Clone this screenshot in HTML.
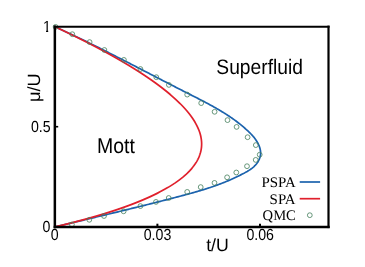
<!DOCTYPE html>
<html><head><meta charset="utf-8"><title>Mott lobe phase diagram</title><style>
html,body{margin:0;padding:0;background:#fff;}
body{width:365px;height:267px;overflow:hidden;font-family:"Liberation Sans",sans-serif;}
svg{display:block;}
text{fill:#000;}
</style></head><body>
<svg width="365" height="267" viewBox="0 0 365 267">

<polyline points="55.00,26.70 56.07,27.19 57.14,27.68 58.22,28.17 59.29,28.67 60.36,29.16 61.43,29.66 62.50,30.15 63.56,30.65 64.63,31.15 65.70,31.65 66.77,32.15 67.83,32.65 68.90,33.16 69.96,33.66 71.03,34.17 72.09,34.67 73.16,35.18 74.22,35.69 75.28,36.20 76.35,36.71 77.41,37.22 78.47,37.73 79.53,38.24 80.59,38.75 81.65,39.27 82.71,39.78 83.77,40.30 84.83,40.82 85.89,41.33 86.95,41.85 88.01,42.37 89.06,42.89 90.12,43.41 91.18,43.93 92.23,44.46 93.29,44.98 94.35,45.50 95.40,46.03 96.46,46.55 97.51,47.08 98.57,47.61 99.62,48.13 100.67,48.66 101.73,49.19 102.78,49.72 103.83,50.25 104.89,50.78 105.94,51.31 106.99,51.84 108.04,52.37 109.09,52.90 110.15,53.43 111.20,53.97 112.25,54.50 113.30,55.04 114.35,55.57 115.40,56.11 116.45,56.64 117.50,57.18 118.55,57.71 119.60,58.25 120.65,58.79 121.70,59.32 122.74,59.86 123.79,60.40 124.84,60.94 125.89,61.48 126.94,62.01 127.99,62.55 129.03,63.09 130.08,63.63 131.13,64.17 132.18,64.71 133.23,65.25 134.27,65.79 135.32,66.33 136.37,66.87 137.42,67.42 138.46,67.96 139.51,68.50 140.56,69.04 141.60,69.58 142.65,70.12 143.70,70.66 144.75,71.21 145.79,71.75 146.84,72.29 147.89,72.83 148.93,73.37 149.98,73.91 151.03,74.46 152.07,75.00 153.12,75.54 154.17,76.08 155.22,76.62 156.26,77.16 157.31,77.70 158.36,78.24 159.40,78.79 160.45,79.33 161.50,79.87 162.55,80.41 163.60,80.95 164.64,81.49 165.69,82.03 166.74,82.57 167.79,83.11 168.84,83.65 169.88,84.18 170.93,84.72 171.98,85.26 173.03,85.80 174.08,86.34 175.13,86.87 176.18,87.41 177.23,87.95 178.28,88.48 179.33,89.02 180.38,89.55 181.43,90.09 182.48,90.62 183.53,91.16 184.58,91.69 185.63,92.22 186.69,92.76 187.74,93.29 188.79,93.82 189.84,94.35 190.89,94.88 191.95,95.42 193.00,95.95 194.05,96.48 195.10,97.01 196.15,97.55 197.20,98.08 198.25,98.62 199.30,99.15 200.35,99.69 201.39,100.23 202.44,100.77 203.48,101.32 204.53,101.87 205.57,102.41 206.61,102.97 207.65,103.52 208.68,104.08 209.72,104.64 210.75,105.20 211.78,105.77 212.81,106.34 213.84,106.91 214.86,107.49 215.88,108.07 216.90,108.65 217.92,109.24 218.93,109.84 219.94,110.44 220.95,111.04 221.95,111.65 222.95,112.27 223.95,112.89 224.95,113.51 225.94,114.14 226.93,114.78 227.91,115.43 228.89,116.08 229.87,116.73 230.84,117.39 231.81,118.06 232.77,118.74 233.73,119.43 234.69,120.12 235.64,120.81 236.59,121.52 237.53,122.24 238.47,122.96 239.40,123.69 240.33,124.43 241.25,125.17 242.16,125.93 243.08,126.69 243.98,127.47 244.88,128.25 245.78,129.04 246.67,129.85 247.55,130.66 248.43,131.48 249.29,132.31 250.15,133.16 250.99,134.01 251.81,134.88 252.61,135.77 253.39,136.67 254.15,137.58 254.88,138.52 255.58,139.47 256.24,140.43 256.88,141.42 257.47,142.43 258.03,143.45 258.54,144.50 259.01,145.57 259.43,146.67 259.80,147.78 260.11,148.91 260.35,150.06 260.52,151.21 260.60,152.37 260.59,153.54 260.50,154.69 260.32,155.84 260.06,156.97 259.72,158.08 259.32,159.17 258.84,160.22 258.31,161.23 257.72,162.20 257.07,163.13 256.37,164.03 255.62,164.90 254.82,165.73 253.99,166.53 253.11,167.30 252.20,168.05 251.26,168.77 250.28,169.46 249.28,170.13 248.26,170.78 247.22,171.42 246.16,172.03 245.09,172.62 244.01,173.21 242.92,173.77 241.83,174.33 240.74,174.88 239.65,175.42 238.57,175.95 237.48,176.47 236.41,176.98 235.33,177.49 234.26,177.99 233.19,178.48 232.12,178.97 231.05,179.45 229.98,179.92 228.91,180.39 227.84,180.85 226.77,181.30 225.70,181.75 224.63,182.19 223.55,182.63 222.47,183.05 221.38,183.48 220.30,183.90 219.21,184.31 218.12,184.72 217.02,185.12 215.92,185.51 214.82,185.91 213.72,186.29 212.61,186.68 211.50,187.05 210.39,187.43 209.28,187.80 208.16,188.16 207.05,188.52 205.93,188.88 204.80,189.23 203.68,189.58 202.56,189.93 201.43,190.27 200.30,190.61 199.17,190.94 198.04,191.28 196.91,191.61 195.77,191.93 194.63,192.26 193.50,192.58 192.36,192.90 191.22,193.21 190.08,193.53 188.94,193.84 187.80,194.15 186.66,194.46 185.51,194.77 184.37,195.08 183.23,195.38 182.08,195.68 180.94,195.99 179.79,196.29 178.65,196.59 177.51,196.89 176.36,197.19 175.22,197.48 174.07,197.78 172.93,198.08 171.78,198.38 170.64,198.67 169.50,198.97 168.35,199.26 167.21,199.56 166.06,199.85 164.92,200.14 163.78,200.44 162.63,200.73 161.49,201.02 160.34,201.31 159.20,201.60 158.06,201.89 156.91,202.18 155.77,202.47 154.63,202.76 153.48,203.05 152.34,203.34 151.20,203.63 150.05,203.91 148.91,204.20 147.77,204.49 146.62,204.77 145.48,205.06 144.34,205.34 143.19,205.63 142.05,205.91 140.91,206.20 139.76,206.48 138.62,206.76 137.48,207.05 136.33,207.33 135.19,207.61 134.05,207.89 132.90,208.17 131.76,208.45 130.62,208.74 129.47,209.02 128.33,209.30 127.19,209.58 126.04,209.86 124.90,210.13 123.76,210.41 122.61,210.69 121.47,210.97 120.32,211.25 119.18,211.53 118.04,211.80 116.89,212.08 115.75,212.36 114.61,212.64 113.46,212.91 112.32,213.19 111.17,213.47 110.03,213.74 108.89,214.02 107.74,214.29 106.60,214.57 105.45,214.85 104.31,215.12 103.16,215.40 102.02,215.67 100.88,215.95 99.73,216.22 98.59,216.50 97.44,216.77 96.30,217.04 95.15,217.32 94.01,217.59 92.86,217.87 91.72,218.14 90.57,218.41 89.42,218.69 88.28,218.96 87.13,219.24 85.99,219.51 84.84,219.78 83.70,220.06 82.55,220.33 81.40,220.60 80.26,220.88 79.11,221.15 77.96,221.42 76.82,221.70 75.67,221.97 74.52,222.24 73.38,222.52 72.23,222.79 71.08,223.06 69.93,223.34 68.79,223.61 67.64,223.88 66.49,224.16 65.34,224.43 64.19,224.71 63.04,224.98 61.90,225.25 60.75,225.53 59.60,225.80 58.45,226.08 57.30,226.35 56.15,226.63 55.00,226.90" fill="none" stroke="#1c63ad" stroke-width="1.7" stroke-linejoin="round"/>
<polyline points="55.00,226.90 60.28,225.65 65.42,224.40 70.44,223.15 75.32,221.89 80.09,220.64 84.73,219.39 89.26,218.14 93.66,216.89 97.96,215.64 102.13,214.39 106.20,213.14 110.16,211.88 114.01,210.63 117.75,209.38 121.39,208.13 124.93,206.88 128.37,205.63 131.71,204.38 134.95,203.13 138.09,201.87 141.15,200.62 144.11,199.37 146.98,198.12 149.76,196.87 152.45,195.62 155.06,194.37 157.58,193.12 160.02,191.86 162.37,190.61 164.65,189.36 166.84,188.11 168.96,186.86 171.00,185.61 172.96,184.36 174.85,183.11 176.66,181.85 178.40,180.60 180.07,179.35 181.67,178.10 183.20,176.85 184.66,175.60 186.06,174.35 187.39,173.10 188.65,171.84 189.85,170.59 190.98,169.34 192.05,168.09 193.06,166.84 194.01,165.59 194.90,164.34 195.73,163.09 196.51,161.83 197.22,160.58 197.88,159.33 198.48,158.08 199.03,156.83 199.52,155.58 199.96,154.33 200.35,153.08 200.69,151.82 200.97,150.57 201.20,149.32 201.38,148.07 201.52,146.82 201.60,145.57 201.64,144.32 201.63,143.07 201.57,141.81 201.47,140.56 201.32,139.31 201.12,138.06 200.89,136.81 200.60,135.56 200.28,134.31 199.91,133.06 199.50,131.80 199.05,130.55 198.56,129.30 198.02,128.05 197.45,126.80 196.83,125.55 196.18,124.30 195.49,123.05 194.76,121.79 194.00,120.54 193.19,119.29 192.35,118.04 191.47,116.79 190.56,115.54 189.61,114.29 188.63,113.04 187.61,111.78 186.56,110.53 185.47,109.28 184.36,108.03 183.20,106.78 182.02,105.53 180.80,104.28 179.55,103.03 178.27,101.77 176.96,100.52 175.62,99.27 174.25,98.02 172.84,96.77 171.41,95.52 169.95,94.27 168.46,93.02 166.94,91.76 165.39,90.51 163.81,89.26 162.21,88.01 160.58,86.76 158.92,85.51 157.23,84.26 155.52,83.01 153.78,81.75 152.02,80.50 150.23,79.25 148.41,78.00 146.57,76.75 144.71,75.50 142.82,74.25 140.90,73.00 138.96,71.74 137.00,70.49 135.01,69.24 133.01,67.99 130.97,66.74 128.92,65.49 126.84,64.24 124.74,62.99 122.61,61.73 120.47,60.48 118.30,59.23 116.11,57.98 113.90,56.73 111.67,55.48 109.42,54.23 107.15,52.98 104.86,51.72 102.54,50.47 100.21,49.22 97.86,47.97 95.49,46.72 93.09,45.47 90.68,44.22 88.25,42.97 85.80,41.71 83.33,40.46 80.85,39.21 78.34,37.96 75.82,36.71 73.28,35.46 70.72,34.21 68.14,32.96 65.55,31.70 62.94,30.45 60.31,29.20 57.66,27.95 55.00,26.70" fill="none" stroke="#e0202c" stroke-width="1.7" stroke-linejoin="round"/>
<g fill="none" stroke="#447f5c" stroke-width="0.8">
<circle cx="55.6" cy="26.9" r="2.4"/>
<circle cx="72.3" cy="34.2" r="2.4"/>
<circle cx="89.6" cy="42.1" r="2.4"/>
<circle cx="104.4" cy="50.0" r="2.4"/>
<circle cx="123.9" cy="59.9" r="2.4"/>
<circle cx="140.4" cy="69.0" r="2.4"/>
<circle cx="156.3" cy="77.2" r="2.4"/>
<circle cx="168.9" cy="84.9" r="2.4"/>
<circle cx="187.2" cy="94.6" r="2.4"/>
<circle cx="201.2" cy="103.1" r="2.4"/>
<circle cx="214.6" cy="111.8" r="2.4"/>
<circle cx="227.5" cy="120.1" r="2.4"/>
<circle cx="236.6" cy="126.9" r="2.4"/>
<circle cx="247.6" cy="137.2" r="2.4"/>
<circle cx="255.8" cy="145.1" r="2.4"/>
<circle cx="259.7" cy="154.7" r="2.4"/>
<circle cx="255.7" cy="159.9" r="2.4"/>
<circle cx="247" cy="166.2" r="2.4"/>
<circle cx="236.3" cy="172.5" r="2.4"/>
<circle cx="227.1" cy="177.3" r="2.4"/>
<circle cx="214.5" cy="182.9" r="2.4"/>
<circle cx="200.7" cy="187.1" r="2.4"/>
<circle cx="187.2" cy="191.9" r="2.4"/>
<circle cx="168.7" cy="198.0" r="2.4"/>
<circle cx="156" cy="201.9" r="2.4"/>
<circle cx="140.4" cy="206.1" r="2.4"/>
<circle cx="123.6" cy="211.3" r="2.4"/>
<circle cx="104.0" cy="216.0" r="2.4"/>
<circle cx="89.3" cy="219.8" r="2.4"/>
<circle cx="71.9" cy="224.5" r="2.4"/>
<circle cx="309.8" cy="215.2" r="2.4"/>
</g>
<g stroke="#000" stroke-linecap="square">
<line x1="54.85" y1="26.7" x2="328.5" y2="26.7" stroke-width="2.1"/>
<line x1="54.85" y1="227.0" x2="328.5" y2="227.0" stroke-width="2.4"/>
<line x1="54.85" y1="26.7" x2="54.85" y2="227.0" stroke-width="2.5"/>
<line x1="328.5" y1="26.7" x2="328.5" y2="227.0" stroke-width="2.2"/>
</g>
<g stroke="#000" stroke-width="2">
<line x1="157.4" y1="227" x2="157.4" y2="223.7"/>
<line x1="260.0" y1="227" x2="260.0" y2="223.7"/>
<line x1="55.2" y1="126.7" x2="58.2" y2="126.7" stroke-width="1.6"/>
</g>
<line x1="299.7" y1="182.0" x2="320.1" y2="182.0" stroke="#1c63ad" stroke-width="1.7"/>
<line x1="299.7" y1="198.7" x2="320.1" y2="198.7" stroke="#e0202c" stroke-width="1.7"/>
<g style="will-change:transform;text-rendering:geometricPrecision">
<clipPath id="c1"><path d="M42 18H48.2V34H46.05V29.9H42Z"/></clipPath><g clip-path="url(#c1)"><text id="y1" transform="translate(42.9,32.2) rotate(0.01) scale(1,1.13)" font-family="Liberation Sans, sans-serif" font-size="14.15">1</text></g>
<text id="y05" transform="translate(30.9,131.85) rotate(0.01) scale(1,1.13)" font-family="Liberation Sans, sans-serif" font-size="14.15">0.5</text>
<text id="y0" transform="translate(42.5,232.1) rotate(0.01) scale(1,1.13)" font-family="Liberation Sans, sans-serif" font-size="14.15">0</text>
<text id="x0" transform="translate(50.7,239.8) rotate(0.01) scale(1,1.13)" font-family="Liberation Sans, sans-serif" font-size="14.15">0</text>
<text id="x03" transform="translate(143.75,239.85) rotate(0.01) scale(1,1.13)" font-family="Liberation Sans, sans-serif" font-size="14.15">0.03</text>
<text id="x06" transform="translate(246.45,240.1) rotate(0.01) scale(1,1.13)" font-family="Liberation Sans, sans-serif" font-size="14.15">0.06</text>
<text id="tU" transform="translate(206.2,251.1) rotate(0.01) scale(1,1.0)" font-family="Liberation Sans, sans-serif" font-size="17.7">t/U</text>
<text id="sf" transform="translate(216.3,73.5) rotate(0.01) scale(1,1.088)" font-family="Liberation Sans, sans-serif" font-size="19.25">Superfluid</text>
<text id="mott" transform="translate(97.0,153.2) rotate(0.01) scale(1,1.095)" font-family="Liberation Sans, sans-serif" font-size="19.45">Mott</text>
<text id="muU" transform="translate(39.6,102.0) rotate(-89.99) scale(1,0.97)" font-family="Liberation Sans, sans-serif" font-size="18.3">μ/U</text>
<text id="pspa" transform="translate(261.4,186.5) rotate(0.01) scale(1,0.98)" font-family="Liberation Serif, serif" font-size="14.9">PSPA</text>
<text id="spa" transform="translate(269.6,203.5) rotate(0.01) scale(1,0.98)" font-family="Liberation Serif, serif" font-size="14.9">SPA</text>
<text id="qmc" transform="translate(262.6,220.2) rotate(0.01) scale(1,1.005)" font-family="Liberation Serif, serif" font-size="14.6">QMC</text>
</g>
</svg>
</body></html>
